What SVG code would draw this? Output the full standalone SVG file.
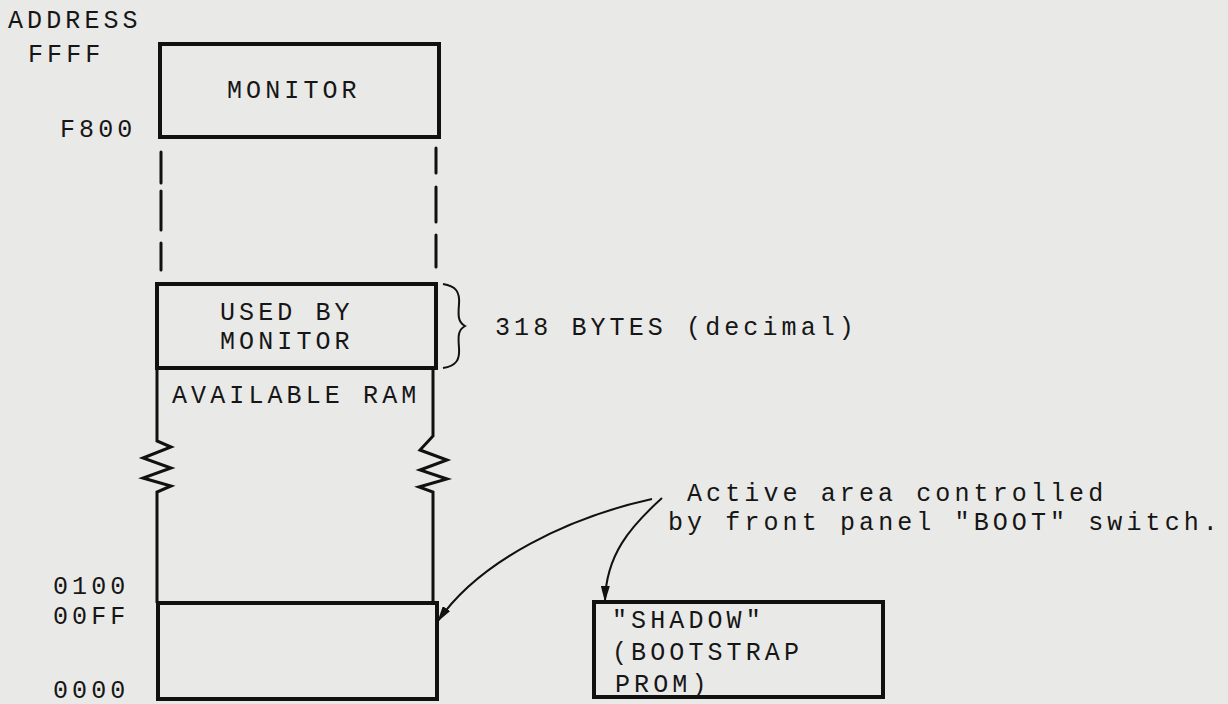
<svg xmlns="http://www.w3.org/2000/svg" width="1228" height="704" viewBox="0 0 1228 704">
<defs>
<style>
text{font-family:"Liberation Mono","Courier New",monospace;font-size:25px;letter-spacing:4.1px;fill:#161616}
.box{fill:none;stroke:#111;stroke-width:4}
.side{fill:none;stroke:#111;stroke-width:3}
.dash{stroke:#111;stroke-width:3;stroke-linecap:round}
.arr{fill:none;stroke:#111;stroke-width:2}
</style>
<marker id="ah" markerWidth="16" markerHeight="9" refX="15" refY="4.5" orient="auto" markerUnits="userSpaceOnUse">
<path d="M0,0 L16,4.5 L0,9 Z" fill="#111"/>
</marker>
</defs>
<rect width="1228" height="704" fill="#e9e9e7"/>
<g id="addresses">
<text x="8" y="28">ADDRESS</text>
<text x="28" y="62">FFFF</text>
<text x="60" y="137">F800</text>
<text x="53" y="594">0100</text>
<text x="53" y="624">00FF</text>
<text x="53" y="698">0000</text>
</g>
<g id="monitor">
<rect class="box" x="160" y="44" width="279" height="93"/>
<text x="227" y="98">MONITOR</text>
</g>
<g id="gap">
<line class="dash" x1="161" y1="152" x2="161" y2="183"/>
<line class="dash" x1="161" y1="191" x2="161" y2="230"/>
<line class="dash" x1="161" y1="243" x2="161" y2="270"/>
<line class="dash" x1="436" y1="148" x2="436" y2="173"/>
<line class="dash" x1="436" y1="187" x2="436" y2="222"/>
<line class="dash" x1="436" y1="235" x2="436" y2="267"/>
</g>
<g id="used-by-monitor">
<rect class="box" x="157" y="284" width="279" height="84"/>
<text x="220" y="320">USED BY</text>
<text x="220" y="349">MONITOR</text>
</g>
<g id="brace">
<path class="arr" d="M443,284 C456,286 460,292 459,304 C458,316 458,322 465,326 C458,330 458,336 459,348 C460,360 456,366 443,368"/>
<text x="495" y="335">318 BYTES (decimal)</text>
</g>
<g id="available-ram">
<text x="172" y="403">AVAILABLE RAM</text>
<polyline class="side" points="157,368 157,441 171,447 143,458 171,468 143,478 171,486 157,492 157,603"/>
<polyline class="side" points="433,368 433,436 420,450 447,460 420,470 447,479 419,487 433,492 433,603"/>
</g>
<g id="low-block">
<rect class="box" x="158" y="603" width="279" height="96"/>
</g>
<g id="shadow">
<rect class="box" x="594" y="602" width="289" height="95"/>
<text x="612" y="628">"SHADOW"</text>
<text x="612" y="660">(BOOTSTRAP</text>
<text x="615" y="692">PROM)</text>
</g>
<g id="note">
<text x="687" y="501">Active area controlled</text>
<text x="668" y="530">by front panel "BOOT" switch.</text>
</g>
<g id="connectors">
<path class="arr" marker-end="url(#ah)" d="M652,499 C570,517 480,560 438,621"/>
<path class="arr" marker-end="url(#ah)" d="M662,498 C630,527 606,555 605,601"/>
</g>
</svg>
